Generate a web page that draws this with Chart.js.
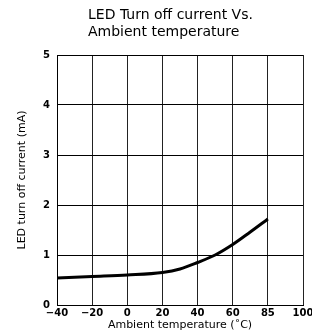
<!DOCTYPE html>
<html>
<head>
<meta charset="utf-8">
<script src="https://cdn.jsdelivr.net/npm/chart.js@4/dist/chart.umd.min.js"></script>
<style>
  html, body { margin: 0; padding: 0; background: #fff; }
  #wrap { width: 312px; height: 332px; }
</style>
</head>
<body>
<div id="wrap"><canvas id="c" width="312" height="332"></canvas></div>
<script>
// tick labels on the temperature axis (evenly spaced grid, not linear)
const tempTicks = [-40, -20, 0, 20, 40, 60, 85, 100];
const currentTicks = [0, 1, 2, 3, 4, 5];

// curve
const temps = [-40, -20, 0, 20, 30, 40, 50, 60, 72, 85];
const currents = [0.54, 0.57, 0.60, 0.65, 0.72, 0.85, 1.00, 1.21, 1.45, 1.72];

const titleLines = ['LED Turn off current Vs.', 'Ambient temperature'];

// place a temperature on the evenly spaced grid
function tempPos(t) {
  for (let i = 0; i < tempTicks.length - 1; i++) {
    const a = tempTicks[i], b = tempTicks[i + 1];
    if (t <= b) return i + (t - a) / (b - a);
  }
  return tempTicks.length - 1;
}

const FONT = "'DejaVu Sans', sans-serif";

const titlePlugin = {
  id: 'cadTitle',
  afterDraw(chart) {
    const ctx = chart.ctx;
    ctx.save();
    ctx.fillStyle = '#000';
    ctx.font = '14px ' + FONT;
    ctx.textBaseline = 'middle';
    ctx.textAlign = 'left';
    titleLines.forEach((l, i) => ctx.fillText(l, 88, 15 + i * 17));
    ctx.restore();
  }
};

new Chart(document.getElementById('c'), {
  type: 'line',
  data: {
    datasets: [{
      data: temps.map((t, i) => ({ x: tempPos(t), y: currents[i] })),
      borderColor: '#000',
      borderWidth: 3,
      pointRadius: 0,
      cubicInterpolationMode: 'monotone',
      fill: false
    }]
  },
  options: {
    responsive: false,
    animation: false,
    layout: { padding: { top: 55, right: 9, left: 0, bottom: 0 } },
    plugins: { legend: { display: false }, tooltip: { enabled: false } },
    scales: {
      x: {
        type: 'linear',
        min: 0, max: tempTicks.length - 1,
        afterBuildTicks: s => { s.ticks = tempTicks.map((_, i) => ({ value: i })); },
        afterFit: s => { s.height = 27; s.paddingLeft = 0; s.paddingRight = 0; },
        grid: { color: '#222', lineWidth: 1, drawTicks: false },
        border: { color: '#000', width: 1 },
        ticks: {
          color: '#000', padding: 2, maxRotation: 0, autoSkip: false,
          font: { family: FONT, size: 10, weight: 'bold' },
          callback: v => tempTicks[v] < 0 ? '\u2212' + Math.abs(tempTicks[v]) : String(tempTicks[v])
        },
        title: {
          display: true, text: 'Ambient temperature (\u02DAC)', color: '#000',
          font: { family: FONT, size: 11 }, padding: { top: 0, bottom: 0 }
        }
      },
      y: {
        min: 0, max: 5,
        afterBuildTicks: s => { s.ticks = currentTicks.map(v => ({ value: v })); },
        afterFit: s => { s.width = 57; s.paddingTop = 0; s.paddingBottom = 0; },
        grid: { color: '#000', lineWidth: 1, drawTicks: false },
        border: { color: '#000', width: 1 },
        ticks: {
          color: '#000', padding: 7,
          font: { family: FONT, size: 10, weight: 'bold' }
        },
        title: {
          display: true, text: 'LED turn off current (mA)', color: '#000',
          font: { family: FONT, size: 11 }, padding: { top: 16, bottom: 0 }
        }
      }
    }
  },
  plugins: [titlePlugin]
});
</script>
</body>
</html>
